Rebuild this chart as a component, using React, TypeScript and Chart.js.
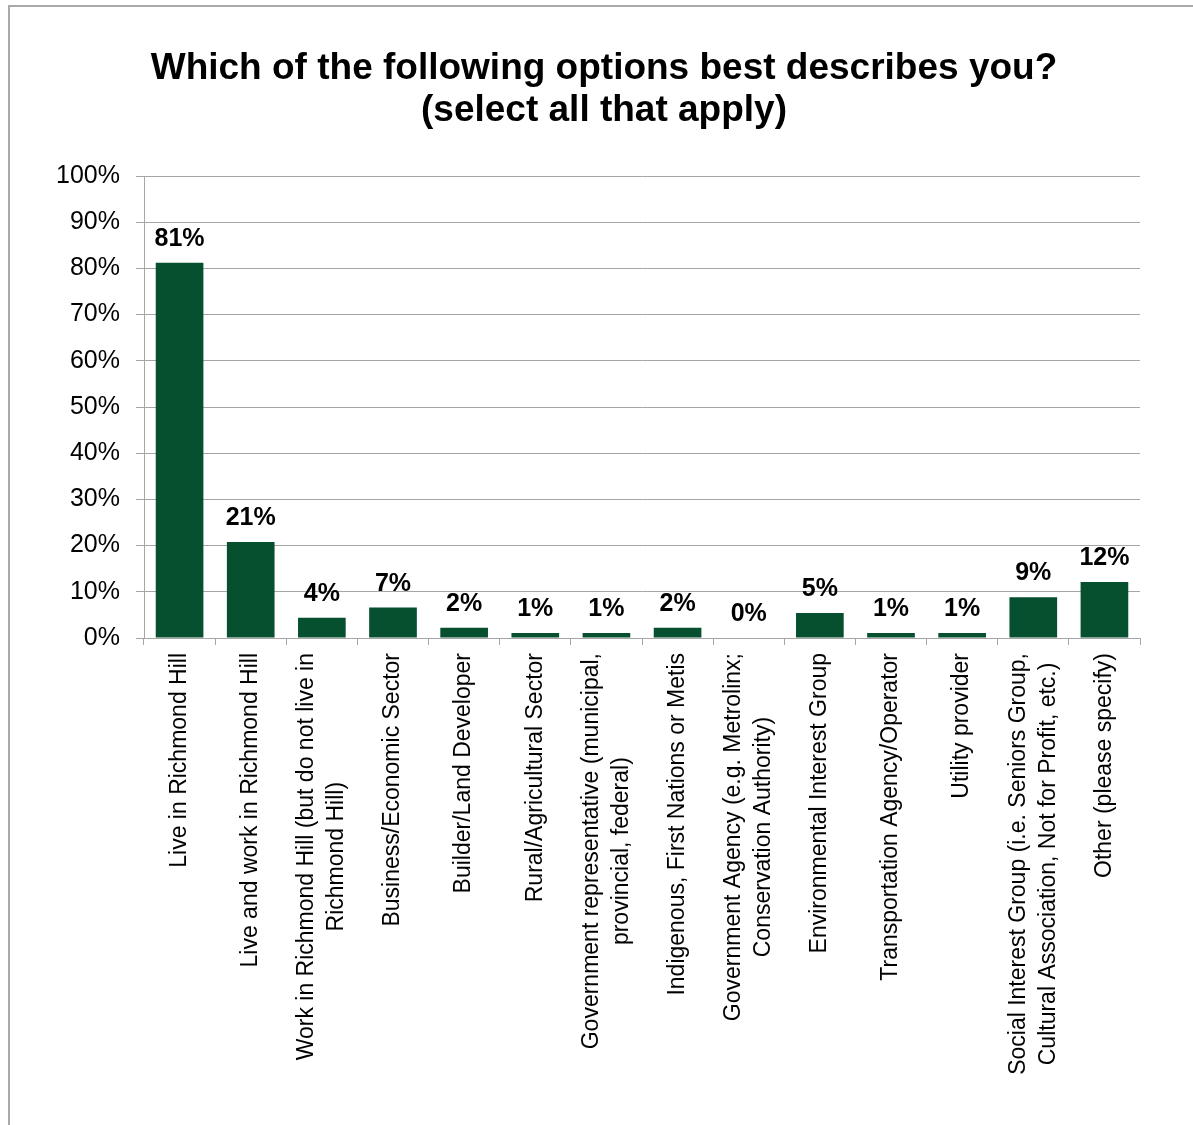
import { useEffect, useRef } from "react";
import { Chart, registerables } from "chart.js";

Chart.register(...registerables);

const FONT = "'Liberation Sans', Arial, Helvetica, sans-serif";

const titleLines = [
  "Which of the following options best describes you?",
  "(select all that apply)",
];

const categories: string[][] = [
  ["Live in Richmond Hill"],
  ["Live and work in Richmond Hill"],
  ["Work in Richmond Hill (but do not live in", "Richmond Hill)"],
  ["Business/Economic Sector"],
  ["Builder/Land Developer"],
  ["Rural/Agricultural Sector"],
  ["Government representative (municipal,", "provincial, federal)"],
  ["Indigenous, First Nations or Metis"],
  ["Government Agency (e.g. Metrolinx;", "Conservation Authority)"],
  ["Environmental Interest Group"],
  ["Transportation Agency/Operator"],
  ["Utility provider"],
  ["Social Interest Group (i.e. Seniors Group,", "Cultural Association, Not for Profit, etc.)"],
  ["Other (please specify)"],
];

const values = [81.2, 20.8, 4.4, 6.6, 2.2, 1.1, 1.1, 2.2, 0, 5.4, 1.1, 1.1, 8.8, 12.1];

const yMin = 0;
const yMax = 100;
const yStep = 10;

const BAR_COLOR = "#06502f";
const GRID_COLOR = "#a6a6a6";

const PLOT_LEFT = 144;

const framePlugin = {
  id: "frame",
  beforeDraw(chart: any) {
    const ctx = chart.ctx;
    ctx.save();
    ctx.fillStyle = "#ffffff";
    ctx.fillRect(0, 0, chart.width, chart.height);
    ctx.strokeStyle = "#a9a9a9";
    ctx.lineWidth = 2;
    ctx.beginPath();
    ctx.moveTo(9, chart.height + 5);
    ctx.lineTo(9, 6);
    ctx.lineTo(chart.width + 5, 6);
    ctx.stroke();
    ctx.restore();
  },
};

const titlePlugin = {
  id: "titleText",
  afterDraw(chart: any) {
    const ctx = chart.ctx;
    ctx.save();
    ctx.font = `bold 37px ${FONT}`;
    ctx.fillStyle = "#000";
    ctx.textAlign = "center";
    ctx.textBaseline = "middle";
    titleLines.forEach((line, i) => {
      ctx.fillText(line, 604, 69 + i * 42);
    });
    ctx.restore();
  },
};

const dataLabelPlugin = {
  id: "dataLabels",
  afterDatasetsDraw(chart: any) {
    const ctx = chart.ctx;
    const meta = chart.getDatasetMeta(0);
    ctx.save();
    ctx.font = `bold 25px ${FONT}`;
    ctx.fillStyle = "#000";
    ctx.textAlign = "center";
    ctx.textBaseline = "alphabetic";
    meta.data.forEach((bar: any, i: number) => {
      const v = chart.data.datasets[0].data[i] as number;
      ctx.fillText(`${Math.round(v)}%`, bar.x, bar.y - 17);
    });
    ctx.restore();
  },
};

const xLabelPlugin = {
  id: "xLabels",
  afterDraw(chart: any) {
    const ctx = chart.ctx;
    const xs = chart.scales.x;
    const top = chart.chartArea.bottom + 15;
    const lh = 30;
    ctx.save();
    ctx.font = `23px ${FONT}`;
    ctx.fillStyle = "#000";
    ctx.textAlign = "center";
    ctx.textBaseline = "middle";
    categories.forEach((lines, i) => {
      const cx = xs.getPixelForValue(i);
      const widths = lines.map((l) => ctx.measureText(l).width);
      const W = Math.max(...widths);
      lines.forEach((line, j) => {
        const x = cx + (j - (lines.length - 1) / 2) * lh;
        const y = top + W / 2;
        ctx.save();
        ctx.translate(x, y);
        ctx.rotate(-Math.PI / 2);
        ctx.fillText(line, 0, 0);
        ctx.restore();
      });
    });
    ctx.restore();
  },
};

export default function App() {
  const ref = useRef<HTMLCanvasElement | null>(null);

  useEffect(() => {
    if (!ref.current) return;
    Chart.defaults.font.family = FONT;
    const chart = new Chart(ref.current, {
      type: "bar",
      data: {
        labels: categories.map((c) => c.join(" ")),
        datasets: [
          {
            data: values,
            backgroundColor: BAR_COLOR,
            borderWidth: 0,
            barPercentage: 0.67,
            categoryPercentage: 1.0,
          },
        ],
      },
      options: {
        responsive: false,
        animation: false,
        devicePixelRatio: 1,
        layout: { padding: { left: 0, right: 53, top: 176, bottom: 480 } },
        plugins: {
          legend: { display: false },
          tooltip: { enabled: false },
          title: { display: false },
        },
        scales: {
          x: {
            type: "category",
            offset: true,
            grid: {
              display: true,
              offset: true,
              drawOnChartArea: false,
              drawTicks: true,
              tickLength: 7,
              color: GRID_COLOR,
            },
            border: { display: true, color: GRID_COLOR, width: 1 },
            ticks: { display: false },
          },
          y: {
            min: yMin,
            max: yMax,
            afterFit: (s: any) => {
              s.width = PLOT_LEFT;
            },
            grid: {
              color: GRID_COLOR,
              drawTicks: true,
              tickLength: 8,
            },
            border: { display: true, color: GRID_COLOR, width: 1 },
            ticks: {
              stepSize: yStep,
              padding: 16,
              color: "#000",
              font: { family: FONT, size: 25 },
              callback: (v: any) => `${v}%`,
            },
          },
        },
      },
      plugins: [framePlugin, dataLabelPlugin, xLabelPlugin, titlePlugin],
    });
    return () => chart.destroy();
  }, []);

  return (
    <div style={{ position: "fixed", left: 0, top: 0, width: 1193, height: 1125 }}>
      <canvas ref={ref} width={1193} height={1125} style={{ display: "block" }} />
    </div>
  );
}
